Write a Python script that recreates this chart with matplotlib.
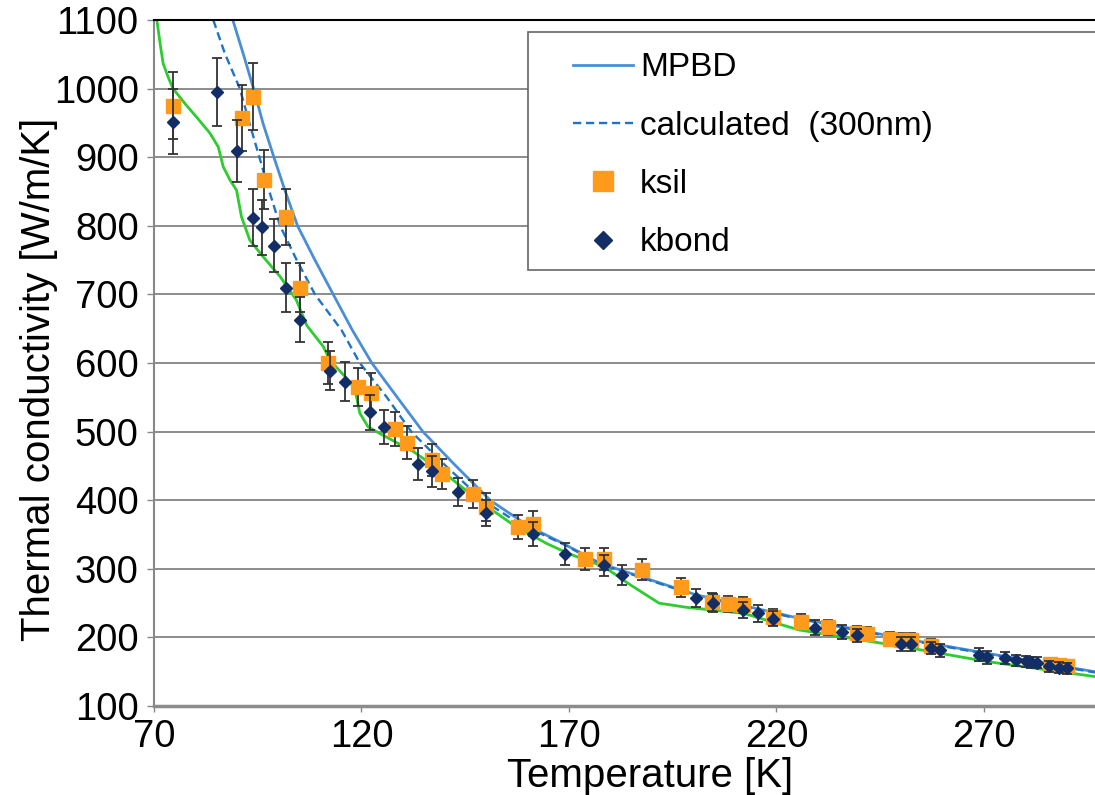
import matplotlib
matplotlib.use("Agg")
import matplotlib.pyplot as plt
from matplotlib.patches import Rectangle

plt.rcParams['font.family'] = ['Liberation Sans', 'DejaVu Sans']

# model curves (temperature K, conductivity W/m/K)
mpbd_T = [89.0, 91.5, 94.0, 96.3, 98.9, 101.6, 104.6, 108.8, 113.2, 117.8, 122.5, 128.5,
          134.8, 142.1, 151.0, 160.6, 168.6, 177.5, 187.6, 200.7, 225.4, 250.0, 270.6,
          296.7, 300.0]
mpbd_k = [1100, 1051, 1000, 949, 900, 851, 800, 750, 700, 648, 600, 551,
          500, 454, 400, 361, 337, 308, 288, 262, 228, 199, 177,
          150, 147]

calc_T = [84.3, 87.1, 90.7, 93.0, 95.4, 97.8, 100.4, 104.4, 108.8, 115.2, 119.6, 126.0,
          132.0, 140.5, 149.3, 158.0, 168.6, 177.5, 187.6, 200.7, 225.4, 250.0, 270.6,
          296.7, 300.0]
calc_k = [1100, 1051, 1000, 950, 900, 850, 800, 750, 700, 648, 600, 551,
          500, 449, 400, 366, 336, 307, 287, 261, 227, 198, 176,
          149, 146]

green_T = [70.7, 71.5, 72.2, 73.4, 74.6, 77.5, 80.2, 83.5, 85.5, 86.7, 88.3, 89.9, 91.1,
           93.1, 96.3, 100.4, 104.3, 106.8, 110.8, 112.4, 116.4, 118.4, 118.8, 119.6,
           121.6, 124.5, 132.5, 140.5, 148.6, 156.6, 164.6, 170.0, 178.5, 184.2, 191.7,
           198.2, 212.2, 220.4, 225.4, 237.7, 250.0, 270.6, 296.7, 300.0]
green_k = [1100, 1065, 1037, 1017, 1000, 978, 959, 935, 915, 886, 867, 852, 813,
           779, 755, 726, 692, 655, 624, 604, 578, 563, 551, 527,
           507, 497, 471, 437, 398, 364, 337, 322, 303, 279, 250,
           244, 235, 220, 211, 199, 187, 165, 143, 140]

# measured points
ksil_T = [74.5, 91.1, 93.9, 96.6, 101.7, 105.2, 112.0, 119.2, 122.2, 128.1, 130.9, 136.9,
          139.5, 146.8, 150.1, 157.8, 161.4, 173.8, 178.5, 187.6, 196.9, 204.4, 208.3,
          212.0, 219.2, 225.9, 232.3, 239.3, 241.7, 247.3, 250.1, 252.5, 257.3, 285.8,
          288.0, 289.9]
ksil_k = [975, 957, 988, 867, 813, 710, 600, 565, 557, 504, 484, 459,
          438, 409, 390, 361, 366, 315, 314, 299, 273, 252, 249,
          247, 230, 223, 215, 207, 205, 198, 196, 196, 188, 161,
          160, 159]
ksil_err = [49, 48, 49, 43, 41, 36, 30, 28, 28, 25, 24, 23,
            22, 20, 20, 18, 18, 16, 16, 15, 14, 13, 12,
            12, 12, 11, 11, 10, 10, 10, 10, 10, 9, 8,
            8, 8]

kbond_T = [74.5, 85.2, 90.1, 93.9, 96.1, 98.9, 101.7, 105.2, 112.3, 116.0, 122.0, 125.4,
           133.7, 136.9, 143.3, 150.1, 161.4, 169.0, 178.5, 182.9, 200.7, 204.6, 212.0,
           215.5, 219.2, 229.3, 235.7, 239.3, 250.1, 252.5, 257.3, 259.4, 268.9, 270.7,
           275.0, 277.8, 280.2, 281.4, 282.7, 285.7, 288.0, 289.9]
kbond_k = [952, 995, 909, 812, 798, 771, 710, 663, 589, 573, 528, 507,
           453, 442, 412, 381, 351, 321, 305, 291, 258, 250, 240,
           235, 227, 214, 208, 203, 190, 190, 185, 181, 175, 171,
           170, 167, 165, 164, 163, 158, 156, 155]
kbond_err = [48, 50, 45, 41, 40, 39, 36, 33, 29, 29, 26, 25,
             23, 22, 21, 19, 18, 16, 15, 15, 13, 13, 12,
             12, 11, 11, 10, 10, 10, 10, 9, 9, 9, 9,
             9, 8, 8, 8, 8, 8, 8, 8]

y_ticks = [100, 200, 300, 400, 500, 600, 700, 800, 900, 1000, 1100]
x_ticks = [70, 120, 170, 220, 270]

fig = plt.figure(figsize=(10.95, 7.95), dpi=100)
ax = fig.add_axes([0.1406, 0.1119, 0.8717, 0.8629])

ax.plot(mpbd_T, mpbd_k, color='#4a8fd6', lw=2.0, label='MPBD', zorder=2)
ax.plot(calc_T, calc_k, color='#1f74c8', lw=1.7, ls=(0, (3.5, 2)),
        label='calculated  (300nm)', zorder=2)
ax.plot(green_T, green_k, color='#2ecc2e', lw=2.0, zorder=2)

ax.errorbar(ksil_T, ksil_k, yerr=ksil_err, fmt='none', ecolor='#333333',
            elinewidth=1.3, capsize=3.5, capthick=1.3, zorder=3)
ax.plot(ksil_T, ksil_k, ls='none', marker='s', ms=9.5, color='#ff9a1a',
        mec='#ff9a1a', label='ksil', zorder=4)
ax.errorbar(kbond_T, kbond_k, yerr=kbond_err, fmt='none', ecolor='#333333',
            elinewidth=1.3, capsize=3.5, capthick=1.3, zorder=5)
ax.plot(kbond_T, kbond_k, ls='none', marker='D', ms=5.8, color='#132d66',
        mec='#132d66', label='kbond', zorder=6)

ax.set_xlim(70, 300)
ax.set_ylim(100, 1100)
ax.set_xticks(x_ticks)
ax.set_yticks(y_ticks)
ax.tick_params(axis='both', labelsize=27.5, colors='#888888', labelcolor='black',
               direction='out')
ax.tick_params(axis='y', length=5, width=1, pad=6)
ax.tick_params(axis='x', length=4, width=1, pad=5)
ax.grid(axis='y', color='#8c8c8c', lw=1.4)
ax.set_axisbelow(True)

ax.spines['top'].set_color('black')
ax.spines['top'].set_linewidth(1.5)
ax.spines['left'].set_color('#888888')
ax.spines['left'].set_linewidth(1.5)
ax.spines['bottom'].set_color('#8c8c8c')
ax.spines['bottom'].set_linewidth(2.5)
ax.spines['right'].set_visible(False)

ax.set_xlabel('Temperature [K]', fontsize=29, va='baseline')
ax.xaxis.set_label_coords(0.5197, -0.118)
ax.set_ylabel('Thermal conductivity [W/m/K]', fontsize=29, va='baseline',
              rotation_mode='anchor')
ax.yaxis.set_label_coords(-0.109, 0.4767)

# legend frame runs off the right edge like in the source
ax.add_patch(Rectangle((0.3918, 0.6356), 0.7, 0.3474, transform=ax.transAxes,
                       facecolor='white', edgecolor='#666666', lw=1.2,
                       clip_on=False, zorder=7))
leg = ax.legend(loc='upper left', bbox_to_anchor=(0.439, 0.953), frameon=False,
                fontsize=24, borderpad=0, borderaxespad=0, handlelength=1.8,
                handletextpad=0.21, labelspacing=0.82, markerscale=1.5)
leg.set_zorder(8)

fig.savefig('out.png', dpi=100)
